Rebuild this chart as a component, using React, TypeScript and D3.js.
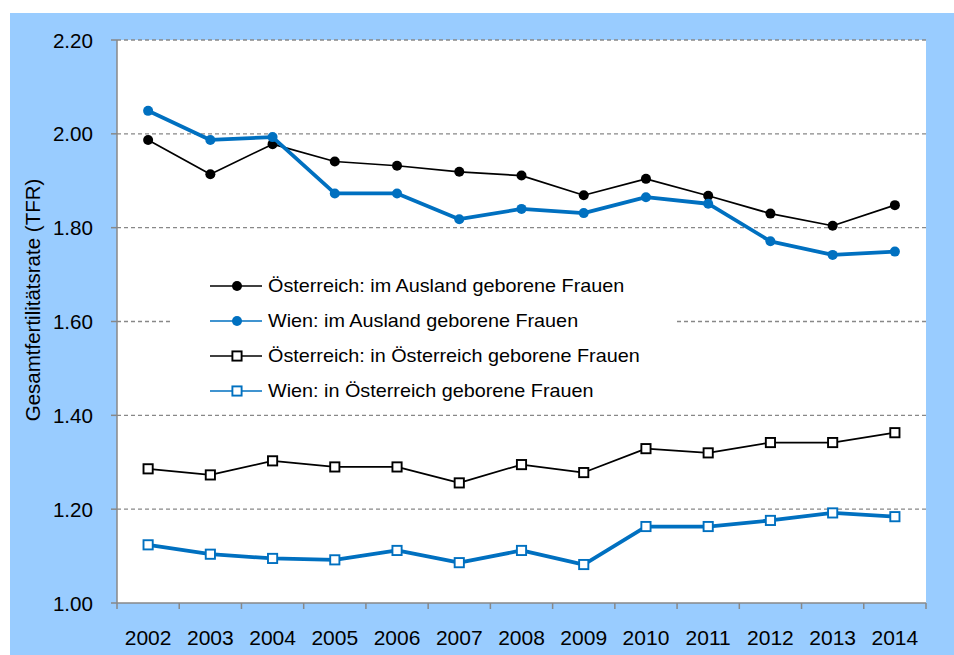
import React from "react";
import * as d3 from "d3";

const years = ["2002","2003","2004","2005","2006","2007","2008","2009","2010","2011","2012","2013","2014"];
const oeAusland = [1.987,1.914,1.978,1.941,1.932,1.919,1.911,1.869,1.904,1.868,1.830,1.804,1.848];
const wienAusland = [2.049,1.987,1.993,1.873,1.873,1.818,1.840,1.831,1.865,1.851,1.771,1.742,1.749];
const oeInland = [1.286,1.273,1.303,1.290,1.290,1.256,1.295,1.278,1.329,1.320,1.342,1.342,1.363];
const wienInland = [1.124,1.104,1.095,1.092,1.112,1.086,1.112,1.082,1.163,1.163,1.176,1.192,1.184];
const yTicks = [1.0,1.2,1.4,1.6,1.8,2.0,2.2];
const seriesNames = [
  "Österreich: im Ausland geborene Frauen",
  "Wien: im Ausland geborene Frauen",
  "Österreich: in Österreich geborene Frauen",
  "Wien: in Österreich geborene Frauen",
];
const yTitle = "Gesamtfertilitätsrate (TFR)";

const BLUE = "#0070C0";
const series = [
  { name: seriesNames[0], values: oeAusland, color: "#000", width: 1.7, marker: "circle" },
  { name: seriesNames[1], values: wienAusland, color: BLUE, width: 3.8, marker: "circle" },
  { name: seriesNames[2], values: oeInland, color: "#000", width: 1.7, marker: "square" },
  { name: seriesNames[3], values: wienInland, color: BLUE, width: 3.8, marker: "square" },
];

const FONT = "'Liberation Sans', Arial, sans-serif";

export default function App() {
  const W = 954, H = 655;
  const L = 117, R = 926, T = 40, B = 603;
  const x = d3.scaleBand<string>().domain(years).range([L, R]);
  const y = d3.scaleLinear().domain([1.0, 2.2]).range([B, T]);
  const line = d3.line<number>().x((_, i) => x(years[i])! + x.bandwidth() / 2).y(d => y(d));

  const marker = (m: string, cx: number, cy: number, color: string, key: string) =>
    m === "circle" ? (
      <circle key={key} cx={cx} cy={cy} r={5} fill={color} />
    ) : (
      <rect key={key} x={cx - 4.6} y={cy - 4.6} width={9.2} height={9.2} fill="#fff" stroke={color} strokeWidth={1.9} />
    );

  const legX = 210, legY0 = 286, legDy = 35;

  return (
    <svg width={W} height={H} style={{ position: "absolute", left: 0, top: 0 }} fontFamily={FONT}>
      <rect x={0} y={0} width={W} height={H} fill="#fff" />
      <rect x={10} y={13} width={W - 10} height={H - 13} fill="#99CCFF" />
      <rect x={L} y={T} width={R - L} height={B - T} fill="#fff" />
      {yTicks.filter(t => t > 1.0).map(t => (
        <line key={t} x1={L} x2={R} y1={y(t)} y2={y(t)} stroke="#888" strokeWidth={1.3} strokeDasharray="4,3" />
      ))}
      {/* legend box */}
      <rect x={172} y={268} width={505} height={140} fill="#fff" />
      {/* axes */}
      <line x1={L} x2={L} y1={T} y2={B} stroke="#888" strokeWidth={1.5} />
      <line x1={L} x2={R} y1={B} y2={B} stroke="#888" strokeWidth={1.5} />
      {yTicks.map(t => (
        <g key={t}>
          <line x1={L - 6} x2={L} y1={y(t)} y2={y(t)} stroke="#888" strokeWidth={1.5} />
          <text x={93} y={y(t) + 7.5} textAnchor="end" fontSize={20.6} fill="#000">{t.toFixed(2)}</text>
        </g>
      ))}
      {years.map(yr => (
        <line key={"t" + yr} x1={x(yr)!} x2={x(yr)!} y1={B} y2={B + 6} stroke="#888" strokeWidth={1.5} />
      ))}
      <line x1={R} x2={R} y1={B} y2={B + 6} stroke="#888" strokeWidth={1.5} />
      {years.map(yr => (
        <text key={"l" + yr} x={x(yr)! + x.bandwidth() / 2} y={645} textAnchor="middle" fontSize={21} fill="#000">{yr}</text>
      ))}
      <text transform={`translate(40,300) rotate(-90)`} textAnchor="middle" fontSize={20.5} fill="#000">{yTitle}</text>
      {series.map((s, si) => (
        <g key={s.name}>
          <path d={line(s.values)!} fill="none" stroke={s.color} strokeWidth={s.width} strokeLinejoin="round" />
          {s.values.map((v, i) => marker(s.marker, x(years[i])! + x.bandwidth() / 2, y(v), s.color, `${si}-${i}`))}
        </g>
      ))}
      {series.map((s, si) => {
        const ly = legY0 + si * legDy;
        return (
          <g key={"leg" + si}>
            <line x1={legX} x2={legX + 52} y1={ly} y2={ly} stroke={s.color} strokeWidth={1.7} />
            {marker(s.marker, legX + 27, ly, s.color, "lm" + si)}
            <text transform={`translate(${legX + 58},${ly + 6.4}) scale(1.1,1)`} fontSize={18} fill="#000">{s.name}</text>
          </g>
        );
      })}
    </svg>
  );
}
